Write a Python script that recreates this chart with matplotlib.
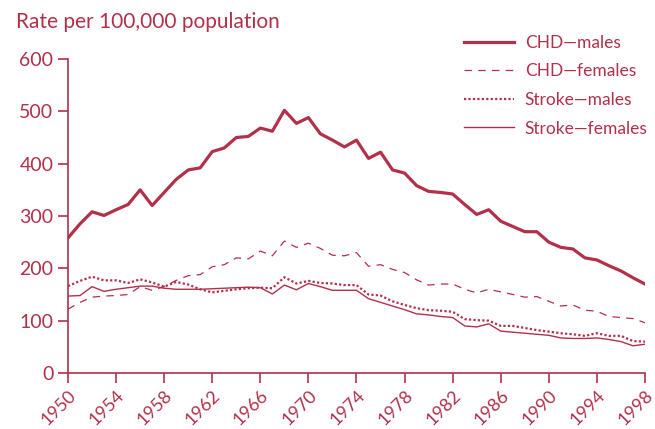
import matplotlib.pyplot as plt
import numpy as np

# rates per 100,000 population, 1950-1998
years = np.arange(1950, 1999)

chd_males = [258, 285, 308, 301, 312, 322, 350, 320, 345, 370,
             388, 392, 423, 430, 450, 452, 468, 462, 502, 477,
             488, 457, 445, 432, 445, 410, 422, 388, 382, 358,
             347, 345, 342, 322, 303, 312, 290, 280, 270, 270,
             250, 240, 237, 220, 216, 205, 195, 182, 170]

chd_females = [122, 135, 145, 147, 148, 150, 165, 158, 165, 177,
               186, 188, 203, 207, 220, 218, 233, 224, 252, 240,
               248, 238, 225, 224, 230, 204, 207, 198, 192, 178,
               168, 170, 170, 160, 153, 160, 155, 150, 145, 146,
               137, 128, 130, 120, 118, 108, 106, 104, 96]

stroke_males = [166, 176, 184, 177, 177, 172, 179, 173, 165, 174,
                169, 160, 154, 157, 160, 162, 163, 162, 183, 171,
                176, 172, 171, 168, 168, 150, 148, 137, 130, 124,
                120, 119, 117, 103, 101, 100, 90, 90, 86, 82,
                79, 76, 74, 71, 76, 71, 71, 61, 60]

stroke_females = [147, 148, 165, 156, 160, 163, 166, 166, 162, 160,
                  160, 160, 161, 162, 163, 164, 163, 151, 168, 159,
                  171, 165, 158, 158, 158, 142, 135, 128, 121, 113,
                  111, 108, 106, 90, 88, 94, 80, 78, 76, 74,
                  72, 67, 66, 66, 67, 64, 60, 52, 55]

xticks = list(range(1950, 1999, 4))
yticks = [0, 100, 200, 300, 400, 500, 600]

red = "#b3304a"
plt.rcParams['font.family'] = ['Lato', 'DejaVu Sans']

fig = plt.figure(figsize=(6.55, 4.29), dpi=100)
ax = fig.add_axes([68 / 655, 1 - 373 / 429, 577 / 655, 314 / 429])

ax.plot(years, chd_males, color=red, lw=2.3, label="CHD\u2014males")
ax.plot(years, chd_females, color=red, lw=0.9, dashes=(6, 5), label="CHD\u2014females")
ax.plot(years, stroke_males, color=red, lw=1.6, ls=(0, (1, 1)), label="Stroke\u2014males")
ax.plot(years, stroke_females, color=red, lw=1.0, label="Stroke\u2014females")

ax.set_xlim(1950, 1998)
ax.set_ylim(0, 600)
ax.set_xticks(xticks)
ax.set_yticks(yticks)
ax.set_xticklabels([str(t) for t in xticks], rotation=45, ha="right",
                   rotation_mode="anchor")

for s in ["top", "right"]:
    ax.spines[s].set_visible(False)
for s in ["left", "bottom"]:
    ax.spines[s].set_color(red)
    ax.spines[s].set_linewidth(1.2)
ax.tick_params(colors=red, length=7, width=1.2, direction="out")
ax.tick_params(axis="y", labelsize=14)
ax.tick_params(axis="x", labelsize=13, pad=3)

fig.text(16 / 655, 1 - 22 / 429, "Rate per 100,000 population", color=red,
         fontsize=15, va="center", ha="left")

leg = ax.legend(loc="upper left", bbox_to_anchor=(464 / 655, 1 - 35 / 429),
                bbox_transform=fig.transFigure, frameon=False,
                fontsize=12.5, handlelength=2.9, handletextpad=0.6,
                labelspacing=0.72, borderpad=0, borderaxespad=0,
                labelcolor=red)

fig.savefig("out.png", dpi=100)
